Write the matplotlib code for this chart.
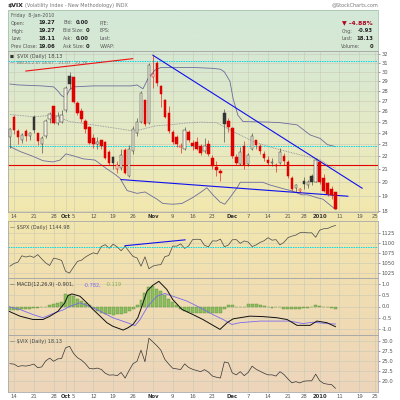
import matplotlib
matplotlib.use("Agg")
import matplotlib.pyplot as plt
from matplotlib.colors import LinearSegmentedColormap
import numpy as np

# indice de pregao: 0 = 14-Sep-2009, 81 = 8-Jan-2010
dias = list(range(-1, 82))

abertura = [23.6, 25.4, 24.1, 23.4, 24.1, 23.7, 25.4, 23.9, 23.0, 23.7,
            25.2, 26.4, 24.9, 25.0, 26.1, 29.5, 29.4, 26.7, 26.0, 25.0,
            24.5, 23.5, 23.0, 23.3, 23.2, 22.3, 21.9, 21.0, 21.1, 22.5,
            20.5, 22.4, 24.0, 25.0, 27.0, 24.9, 29.5, 31.0, 28.5, 27.0,
            25.8, 24.0, 23.6, 22.8, 22.6, 24.0, 23.1, 23.2, 22.8, 22.4,
            23.0, 21.8, 21.1, 20.8, 25.8, 25.0, 24.4, 21.9, 21.4, 22.8,
            21.4, 22.6, 23.3, 22.8, 22.2, 21.7, 21.5, 21.3, 21.5, 22.0,
            21.5, 20.3, 19.6, 19.4, 20.1, 19.8, 20.4, 20.0, 21.5, 20.3,
            19.9, 19.5, 19.27]
maxima = [24.4, 25.6, 24.3, 24.0, 24.3, 24.1, 25.6, 24.0, 23.7, 25.2,
          25.9, 26.5, 25.9, 26.1, 28.5, 30.0, 29.5, 27.0, 26.3, 25.2,
          24.6, 23.9, 23.6, 23.4, 23.3, 22.5, 22.0, 21.6, 22.6, 22.7,
          22.9, 24.6, 25.3, 28.0, 27.1, 31.0, 31.9, 31.2, 28.6, 27.2,
          26.5, 24.2, 23.8, 23.1, 24.5, 24.2, 23.4, 23.6, 23.0, 23.5,
          23.4, 22.1, 21.6, 21.0, 26.2, 25.3, 24.5, 22.2, 22.8, 23.3,
          22.3, 24.0, 23.4, 23.0, 22.4, 22.0, 21.9, 21.5, 22.7, 22.3,
          21.7, 20.5, 19.9, 19.6, 20.4, 20.2, 20.6, 21.9, 21.6, 20.6,
          20.0, 19.7, 19.27]
minima = [22.7, 23.9, 23.0, 23.1, 23.3, 23.4, 24.0, 22.9, 22.3, 23.5,
          24.9, 24.8, 24.7, 24.9, 25.9, 28.2, 26.8, 25.6, 25.0, 24.0,
          23.0, 22.7, 22.6, 22.6, 21.8, 21.3, 21.0, 20.7, 20.9, 20.6,
          20.4, 22.2, 23.7, 24.9, 24.6, 24.8, 28.3, 28.5, 26.4, 25.3,
          24.0, 23.0, 22.8, 22.3, 22.5, 23.2, 22.5, 22.5, 22.1, 22.3,
          22.0, 21.0, 20.5, 20.1, 23.2, 24.1, 21.9, 21.3, 21.3, 21.0,
          21.2, 22.5, 22.6, 22.2, 21.6, 21.3, 21.2, 20.8, 21.4, 21.3,
          20.3, 19.4, 19.3, 19.2, 19.5, 19.6, 19.8, 20.0, 19.9, 19.3,
          19.0, 18.8, 18.11]
fechamento = [24.3, 24.2, 23.6, 23.8, 23.7, 23.9, 24.2, 23.3, 23.5, 25.0,
              25.7, 24.9, 25.5, 25.6, 28.27, 28.68, 26.9, 25.8, 25.2, 24.3,
              23.1, 23.0, 23.2, 22.86, 21.9, 21.43, 21.5, 21.3, 22.1, 20.69,
              22.6, 24.3, 24.9, 27.7, 24.8, 30.69, 29.78, 28.81, 27.7, 25.4,
              24.19, 23.15, 23.0, 22.84, 24.25, 23.36, 22.89, 22.6, 22.3, 22.8,
              22.19, 21.2, 20.9, 20.7, 24.74, 24.51, 22.0, 21.5, 22.3, 21.3,
              22.1, 23.69, 22.9, 22.4, 21.9, 21.5, 21.5, 21.2, 22.3, 21.6,
              20.5, 19.5, 19.8, 19.47, 19.9, 20.0, 20.0, 21.68, 20.04, 19.35,
              19.16, 19.06, 18.13]

spx = [1042.73, 1049.34, 1052.63, 1068.76, 1065.49, 1068.30, 1064.66, 1071.66, 1060.87, 1050.78,
       1044.38, 1062.98, 1060.61, 1057.08, 1029.85, 1025.21, 1040.46, 1054.72, 1057.58, 1065.48,
       1071.49, 1076.19, 1073.19, 1092.02, 1096.56, 1087.68, 1097.91, 1091.06, 1081.40, 1092.91,
       1079.60, 1066.95, 1063.41, 1042.63, 1066.11, 1036.19, 1042.88, 1045.41, 1046.50, 1066.63,
       1069.30, 1093.08, 1093.01, 1098.51, 1087.24, 1093.48, 1109.30, 1110.32, 1109.80, 1094.90,
       1091.38, 1106.24, 1105.65, 1110.63, 1091.49, 1095.63, 1108.86, 1109.24, 1099.92, 1105.98,
       1103.25, 1091.94, 1095.95, 1102.35, 1106.41, 1114.11, 1107.93, 1109.18, 1096.08, 1102.47,
       1114.05, 1118.02, 1120.59, 1126.48, 1127.78, 1126.20, 1126.42, 1115.10, 1132.99, 1136.52,
       1137.14, 1141.69, 1144.98]

# bandas de Bollinger (indice, valor)
bb_sup_x = [-1, 1, 7, 10, 11, 12, 13, 14, 15, 20, 25, 29.5, 31, 32.5, 33.8, 35.5, 37, 40, 45,
            50, 52, 53, 54.4, 55.2, 56.4, 57.7, 64, 67, 71.3, 74.6, 77.1, 79, 81]
bb_sup = [28.7, 28.6, 28.5, 28.4, 28.0, 27.5, 27.3, 28.1, 28.4, 28.5, 28.5, 28.5, 28.6, 28.2,
          29.3, 30.2, 30.5, 30.5, 30.5, 30.4, 30.3, 30.0, 29.0, 27.2, 25.6, 25.0, 24.95, 24.9,
          24.7, 23.8, 23.5, 22.96, 22.8]
bb_med_x = [-1, 5, 10, 14, 18, 25.5, 29.2, 31.7, 35.5, 39.3, 43, 47, 51, 55.2, 60.2, 63.7, 67,
            72, 77.1, 79.6, 81]
bb_med = [25.66, 25.44, 25.6, 25.0, 24.8, 24.4, 24.2, 24.25, 24.6, 24.7, 24.85, 24.95, 24.9,
          24.1, 23.25, 22.85, 22.54, 22.13, 21.73, 21.2, 21.07]
bb_inf_x = [-1, 1.5, 4.8, 7.3, 9.8, 11.6, 13.1, 15.4, 17.4, 20.4, 23, 25.4, 26.7, 28.5, 31, 33,
            36, 37.5, 40, 42.3, 45, 46.9, 48.6, 50.1, 51.9, 53.1, 54.4, 56.2, 57, 62.7, 64.5, 67,
            70.3, 72.5, 74, 76.3, 77.8, 79.6, 81]
bb_inf = [22.8, 22.4, 22.0, 21.65, 21.55, 21.7, 22.2, 22.0, 21.8, 21.7, 21.1, 20.6, 20.3, 19.4,
          19.2, 19.3, 18.8, 18.5, 18.45, 18.5, 18.9, 19.25, 19.6, 19.1, 18.6, 18.45, 18.9, 19.6,
          20.0, 20.0, 19.8, 19.6, 19.35, 19.1, 19.1, 18.9, 18.8, 18.4, 18.1]

# MACD
macd_x = [-1.3, 1.5, 4.8, 7.3, 9.1, 11.1, 12.8, 13.6, 14.6, 16.6, 18.4, 19.9, 21.7, 23.4, 24.9,
          27.5, 28.7, 30, 31.2, 32.3, 33.5, 35, 36.5, 38.5, 40, 42.3, 45.1, 47.6, 51.9, 53.7,
          55.2, 59.4, 62.7, 66.2, 68.8, 71.3, 74.6, 76.3, 78.8, 80.4, 81]
macd = [-0.21, -0.43, -0.58, -0.58, -0.43, -0.21, 0.16, 0.49, 0.56, 0.46, 0.16, -0.13, -0.43,
        -0.72, -0.88, -1.05, -0.95, -0.8, -0.5, 0.05, 0.68, 0.95, 1.12, 0.76, 0.31, -0.13, -0.36,
        -0.58, -1.02, -0.72, -0.55, -0.43, -0.45, -0.5, -0.58, -0.84, -0.84, -0.65, -0.72, -0.85,
        -0.90]
sinal_x = [-1.3, 1.5, 4.8, 7.3, 10.3, 12.3, 14.1, 16.6, 19.1, 21.7, 24.9, 28.5, 30.5, 31.7, 33.7,
           36, 38, 40, 43.6, 47, 50.1, 52.7, 54.9, 57, 62, 66.2, 69.5, 72.8, 75.3, 78.8, 81]
sinal = [-0.01, -0.13, -0.36, -0.5, -0.28, -0.16, 0.01, 0.16, 0.01, -0.21, -0.5, -0.72, -0.85,
         -0.6, 0.01, 0.46, 0.58, 0.46, 0.24, -0.06, -0.36, -0.58, -0.8, -0.72, -0.65, -0.65, -0.65,
         -0.76, -0.7, -0.76, -0.782]
histograma = [-0.15, -0.16, -0.14, -0.12, -0.1, -0.1, -0.08, -0.06, -0.04, -0.02,
              0.08, 0.12, 0.15, 0.2, 0.55, 0.52, 0.45, 0.35, 0.25, 0.15,
              0.05, -0.1, -0.2, -0.28, -0.32, -0.35, -0.38, -0.35, -0.32, -0.28,
              -0.2, -0.1, 0.05, 0.3, 0.6, 0.85, 0.9, 0.8, 0.7, 0.5,
              0.35, 0.2, 0.05, -0.1, -0.2, -0.25, -0.3, -0.3, -0.3, -0.28,
              -0.3, -0.3, -0.3, -0.3, -0.1, 0.05, 0.05, 0.0, -0.03, 0.0,
              0.1, 0.1, 0.1, 0.05, 0.02, -0.03, -0.05, -0.03, 0.0, -0.1,
              -0.1, -0.1, -0.12, -0.1, -0.05, -0.05, 0.0, 0.05, 0.03, 0.0,
              -0.02, -0.05, -0.119]

rotulos_x = ['14', '21', '28', 'Oct', '5', '12', '19', '26', 'Nov', '9', '16', '23',
             'Dec', '7', '14', '21', '28', '2010', '11', '19', '25']
posicoes_x = [0, 5, 10, 13, 15, 20, 25, 30, 35, 40, 45, 50, 55, 59, 64, 69, 73, 77, 82, 87, 91]
meses = ['Oct', 'Nov', 'Dec', '2010']

W, H = 400, 400
fig = plt.figure(figsize=(4, 4), dpi=100)
fig.patch.set_facecolor('white')


def caixa(x0, y0, x1, y1):
    return [x0 / W, 1 - y1 / H, (x1 - x0) / W, (y1 - y0) / H]


def texto(x, y, s, **kw):
    kw.setdefault('fontsize', 3.4)
    kw.setdefault('color', '#333333')
    kw.setdefault('va', 'center')
    fig.text(x / W, 1 - y / H, s, **kw)


# fundo degrade
fundo = fig.add_axes(caixa(8, 10, 378, 392))
cores = LinearSegmentedColormap.from_list('fundo', [
    (0.0, '#d4e8d8'), (0.12, '#d6e8d3'), (0.35, '#e8eac2'), (0.52, '#f2e8ae'),
    (0.72, '#f1deb1'), (1.0, '#edd5bb')])
fundo.imshow(np.linspace(0, 1, 256).reshape(-1, 1), aspect='auto', cmap=cores,
             extent=[0, 1, 0, 1], origin='upper')
fundo.set_axis_off()
fundo.set_zorder(0)

# cabecalho
texto(8, 5, '$VIX', fontsize=4.4, fontweight='bold', color='#222222')
texto(25, 5, '(Volatility Index - New Methodology) INDX', fontsize=3.5, color='#777777')
texto(378, 5, '@StockCharts.com', fontsize=3.5, color='#777777', ha='right')
fig.patches.append(plt.Rectangle((8 / W, 1 - 51 / H), 370 / W, 41 / H, transform=fig.transFigure,
                                 facecolor='none', edgecolor='#a8c4ab', linewidth=0.6))
texto(11, 15, 'Friday  8-Jan-2010', color='#555555')
linhas = [('Open:', '19.27', 'Bid:', '0.00', 'P/E:'),
          ('High:', '19.27', 'Bid Size:', '0', 'EPS:'),
          ('Low:', '18.11', 'Ask:', '0.00', 'Last:'),
          ('Prev Close:', '19.06', 'Ask Size:', '0', 'VWAP:')]
for k, (a, b, c, d, e) in enumerate(linhas):
    y = 23 + 8 * k
    texto(11, y, a, color='#555555')
    texto(55, y, b, fontsize=3.8, fontweight='bold', ha='right', color='#222222')
    texto(63, y, c, color='#555555')
    texto(89, y, d, fontsize=3.8, fontweight='bold', ha='right', color='#222222')
    texto(100, y, e, color='#555555')
texto(373, 23, '\u25bc -4.88%', fontsize=4.4, fontweight='bold', color='#b00020', ha='right')
texto(342, 31, 'Chg:', color='#555555')
texto(373, 31, '-0.93', fontsize=3.8, fontweight='bold', ha='right', color='#222222')
texto(342, 39, 'Last:', color='#555555')
texto(373, 39, '18.13', fontsize=3.8, fontweight='bold', ha='right', color='#222222')
texto(341, 47, 'Volume:', color='#555555')
texto(373, 47, '0', fontsize=3.8, fontweight='bold', ha='right', color='#222222')


def painel(y0, y1):
    ax = fig.add_axes(caixa(8, y0, 378, y1))
    ax.set_facecolor('none')
    ax.set_zorder(2)
    ax.set_xlim(-1.5, 91.7)
    ax.set_xticks(posicoes_x)
    ax.yaxis.tick_right()
    ax.tick_params(axis='y', labelsize=3.8, length=1.5, width=0.4, pad=1, colors='#555555')
    ax.tick_params(axis='x', length=0, labelbottom=False)
    ax.grid(True, color='#c9c9b5', linewidth=0.4)
    ax.set_axisbelow(True)
    for lado in ax.spines.values():
        lado.set_color('#a9a9a9')
        lado.set_linewidth(0.6)
    return ax


def rotular_datas(ax):
    ax.tick_params(axis='x', labelbottom=True, labelsize=3.8, pad=1.5, colors='#555555')
    ax.set_xticklabels(rotulos_x)
    for t in ax.get_xticklabels():
        if t.get_text() in meses:
            t.set_fontweight('bold')
            t.set_color('#333333')


# painel principal: velas do VIX
ax = painel(51, 212)
ax.set_yscale('log')
ax.set_ylim(17.93, 32.4)
niveis = list(range(18, 33))
ax.set_yticks(niveis)
ax.set_yticklabels([str(n) for n in niveis])
ax.yaxis.set_minor_locator(matplotlib.ticker.NullLocator())
rotular_datas(ax)

ax.plot(bb_sup_x, bb_sup, color='#6c6c9c', linewidth=0.6)
ax.plot(bb_inf_x, bb_inf, color='#6c6c9c', linewidth=0.6)
ax.plot(bb_med_x, bb_med, color='#8a8a9a', linewidth=0.6, linestyle=(0, (1, 1)))
ax.axhline(31.2, color='#00d8e8', linewidth=0.7, linestyle=(0, (1.5, 1)))
ax.axhline(22.85, color='#00d8e8', linewidth=0.7, linestyle=(0, (1.5, 1)))
ax.axhline(21.3, color='#e00000', linewidth=0.8)
ax.plot([3, 29.9], [30.1, 31.5], color='#ee1111', linewidth=0.8)
ax.plot([35, 87.7], [31.9, 19.57], color='#1010ee', linewidth=0.8)
ax.plot([27, 84.1], [20.2, 19.0], color='#1010ee', linewidth=0.8)

anterior = abertura[0]
for d, o, h, l, c in zip(dias, abertura, maxima, minima, fechamento):
    cor = '#e00000' if c < anterior else '#333333'
    cheio = c < o
    ax.vlines(d, l, h, color=cor, linewidth=0.4, zorder=3)
    ax.bar(d, abs(c - o) + 0.03, bottom=min(o, c), width=0.62,
           color=cor if cheio else '#f4f1e0', edgecolor=cor, linewidth=0.35, zorder=4)
    anterior = c

ax.text(0.025, 0.965, '$VIX (Daily) 18.13', transform=ax.transAxes, fontsize=3.6,
        color='#444444', va='center')
ax.text(0.005, 0.965, '\u25a0', transform=ax.transAxes, fontsize=3, color='#333333', va='center')
ax.text(0.005, 0.925, '\u2014', transform=ax.transAxes, fontsize=3.6, color='#6c6c9c', va='center')
ax.text(0.025, 0.925, 'BB(20,2.0) 18.67 - 21.07 - 22.78', transform=ax.transAxes,
        fontsize=3.2, color='#777777', va='center')

# painel do S&P 500
ax2 = painel(221, 278)
ax2.set_ylim(1013, 1156)
ax2.set_yticks([1025, 1050, 1075, 1100, 1125])
ax2.plot(dias, spx, color='#444444', linewidth=0.5)
ax2.axhline(1091, color='#00d8e8', linewidth=0.7, linestyle=(0, (1.5, 1)))
ax2.plot([28, 43.1], [1094, 1108.7], color='#1010ee', linewidth=0.8)
ax2.text(0.005, 0.88, '\u2014 $SPX (Daily) 1144.98', transform=ax2.transAxes, fontsize=3.6,
         color='#444444', va='center')

# painel do MACD
ax3 = painel(278, 335)
ax3.set_ylim(-1.27, 1.27)
ax3.set_yticks([-1.0, -0.5, 0.0, 0.5, 1.0])
ax3.set_yticklabels(['-1.0', '-0.5', '0.0', '0.5', '1.0'])
ax3.bar(dias, histograma, width=0.75, color='#8cbf5f', edgecolor='#5e8f3a', linewidth=0.3)
ax3.plot(sinal_x, sinal, color='#7b68ee', linewidth=0.6)
ax3.plot(macd_x, macd, color='#111111', linewidth=0.7)
ax3.text(0.005, 0.88, '\u2014 MACD(12,26,9) -0.901,', transform=ax3.transAxes, fontsize=3.6,
         color='#333333', va='center')
ax3.text(0.205, 0.88, '-0.782,', transform=ax3.transAxes, fontsize=3.6, color='#7b68ee',
         va='center')
ax3.text(0.265, 0.88, '-0.119', transform=ax3.transAxes, fontsize=3.6, color='#7fae50',
         va='center')

# painel do VIX em linha
ax4 = painel(335, 392)
ax4.set_ylim(17.2, 31.5)
ax4.set_yticks([20.0, 22.5, 25.0, 27.5, 30.0])
ax4.set_yticklabels(['20.0', '22.5', '25.0', '27.5', '30.0'])
ax4.plot(dias, fechamento, color='#333333', linewidth=0.5)
rotular_datas(ax4)
ax4.text(0.005, 0.88, '\u2014 $VIX (Daily) 18.13', transform=ax4.transAxes, fontsize=3.6,
         color='#444444', va='center')

fig.savefig('out.png', dpi=100)
